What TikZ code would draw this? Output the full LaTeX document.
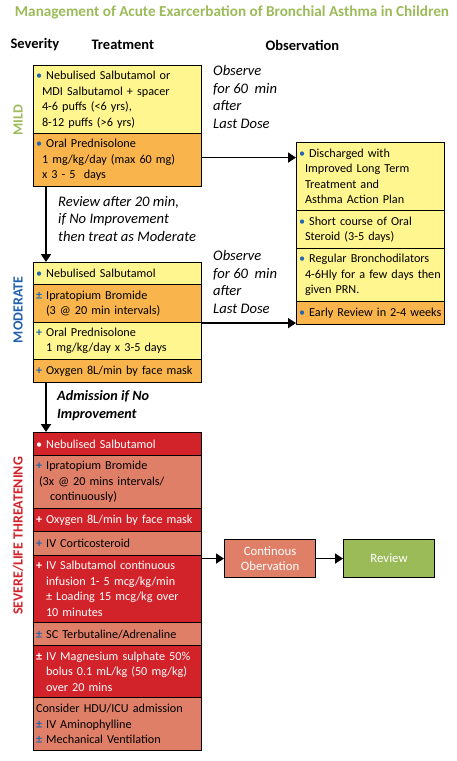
\documentclass[tikz,border=0pt]{standalone}
\usepackage{fontspec}
\setmainfont{Carlito}
\usetikzlibrary{arrows.meta}
\definecolor{cyel}{HTML}{FFF68F}
\definecolor{corg}{HTML}{F9B54C}
\definecolor{cred}{HTML}{D2232A}
\definecolor{csal}{HTML}{E07F67}
\definecolor{cgrn}{HTML}{9BBB59}
\definecolor{cblu}{HTML}{1F5FAD}
\definecolor{cbul}{HTML}{2367B0}
\newcommand{\bul}{\textcolor{cbul}{•}}
\newcommand{\pls}{\textcolor{cbul}{\textbf{+}}}
\newcommand{\pmi}{\textcolor{cbul}{\textbf{±}}}
\newcommand{\ib}{\hspace*{6pt}}
\newcommand{\ip}{\hspace*{10pt}}
\begin{document}
\begin{tikzpicture}[x=1pt,y=-1pt,
  box/.style={draw=black, line width=1.1pt, anchor=north west, align=left,
    inner xsep=2.5pt, inner ysep=0pt, font=\fontsize{12.2}{15.5}\selectfont},
  lbox/.style={box, text width=163pt},
  rbox/.style={box, text width=143pt},
  redbox/.style={lbox, fill=cred, text=white},
  salbox/.style={lbox, fill=csal},
  arr/.style={line width=1.8pt, -{Triangle[length=8pt,width=10pt]}},
  obs/.style={anchor=north west, align=left, inner sep=0pt,
    font=\fontsize{14.6}{17.7}\selectfont\itshape},
  side/.style={rotate=90, font=\fontsize{14}{14}\selectfont\bfseries},
  hdr/.style={anchor=west, font=\fontsize{14.5}{14.5}\selectfont\bfseries},
  endbox/.style={draw=black, line width=1.1pt, anchor=north west, align=center,
    text=white, minimum width=91pt, minimum height=38pt, inner sep=0pt,
    font=\fontsize{12.8}{15.5}\selectfont}]
\useasboundingbox (0,0) rectangle (457,761);

\node[text=cgrn, font=\fontsize{15.2}{15.2}\selectfont\bfseries] (title) at (232,12)
  {Management of Acute Exarcerbation of Bronchial Asthma in Children};
\node[hdr] (hsev) at (7,45) {Severity};
\node[hdr] (htrt) at (88,45) {Treatment};
\node[hdr] (hobs) at (262,45) {Observation};

% side labels
\node[side, text=cgrn] (lmild) at (18,120) {MILD};
\node[side, text=cblu] (lmod) at (18,310) {MODERATE};
\node[side, text=cred] (lsev) at (18,536) {SEVERE/LIFE THREATENING};

% mild
\node[lbox, fill=cyel, minimum height=68pt] (m1) at (33,65)
  {\bul\ Nebulised~Salbutamol~or\\\ib MDI~Salbutamol~+~spacer\\\ib 4-6~puffs~(<6~yrs),\\\ib 8-12~puffs~(>6~yrs)};
\node[lbox, fill=corg, minimum height=53pt] (m2) at (33,133)
  {\bul\ Oral~Prednisolone\\\ib 1~mg/kg/day~(max~60~mg)\\\ib x~3~-~5~~days};

% moderate
\node[lbox, fill=cyel, minimum height=22pt] (mod1) at (33,262)
  {\bul\ Nebulised~Salbutamol};
\node[lbox, fill=corg, minimum height=38pt] (mod2) at (33,284)
  {\pmi\ Ipratopium~Bromide\\\ip(3~@~20~min~intervals)};
\node[lbox, fill=cyel, minimum height=37pt] (mod3) at (33,322)
  {\pls\ Oral~Prednisolone\\\ip 1~mg/kg/day~x~3-5~days};
\node[lbox, fill=corg, minimum height=23pt] (mod4) at (33,359)
  {\pls\ Oxygen~8L/min~by~face~mask};

% severe
\node[redbox, minimum height=23pt] (s1) at (33,432) {•~Nebulised~Salbutamol};
\node[salbox, minimum height=53pt] (s2) at (33,455)
  {\pls\ Ipratopium~Bromide\\\hspace*{3pt}(3x~@~20~mins~intervals/\\\hspace*{14pt}continuously)};
\node[redbox, minimum height=23pt] (s3) at (33,508) {\textbf{+}~Oxygen~8L/min~by~face~mask};
\node[salbox, minimum height=24pt] (s4) at (33,531) {\pls\ IV~Corticosteroid};
\node[redbox, minimum height=67pt] (s5) at (33,555)
  {\textbf{+}~IV~Salbutamol~continuous\\\ip infusion~1-~5~mcg/kg/min\\\ip ±~Loading~15~mcg/kg~over\\\ip 10~minutes};
\node[salbox, minimum height=23pt] (s6) at (33,622) {\pmi\ SC~Terbutaline/Adrenaline};
\node[redbox, minimum height=52pt] (s7) at (33,645)
  {\textbf{±}~IV~Magnesium~sulphate~50\%\\\ip bolus~0.1~mL/kg~(50~mg/kg)\\\ip over~20~mins};
\node[salbox, minimum height=53pt] (s8) at (33,697)
  {Consider~HDU/ICU~admission\\\pmi\ IV~Aminophylline\\\pmi\ Mechanical~Ventilation};

% right column
\node[rbox, fill=cyel, minimum height=68pt] (r1) at (296,142)
  {\bul\ Discharged~with\\\ib Improved~Long~Term\\\ib Treatment~and\\\ib Asthma~Action~Plan};
\node[rbox, fill=cyel, minimum height=38pt] (r2) at (296,210)
  {\bul\ Short~course~of~Oral\\\ib Steroid~(3-5~days)};
\node[rbox, fill=cyel, minimum height=53pt] (r3) at (296,248)
  {\bul\ Regular~Bronchodilators\\\ib 4-6Hly~for~a~few~days~then\\\ib given~PRN.};
\node[rbox, fill=corg, minimum height=23pt] (r4) at (296,301)
  {\bul\ Early~Review~in~2-4~weeks};

% end boxes
\node[endbox, fill=csal] (co) at (224,539) {Continous\\Obervation};
\node[endbox, fill=cgrn] (rv) at (343,539) {Review};

% observation texts
\node[obs] (ob1) at (213,65) {Observe\\for 60~ min\\after\\Last Dose};
\node[obs] (ob2) at (213,250) {Observe\\for 60~ min\\after\\Last Dose};
\node[obs] (rev) at (58,196) {Review after 20 min,\\if No Improvement\\then treat as \textit{Moderate}};
\node[obs, font=\fontsize{14.2}{18.5}\selectfont\bfseries\itshape] (adm) at (57,390) {Admission if No\\Improvement};

% connectors
\draw[arr] ([yshift=2.5pt]m2.east) -- ([yshift=2.5pt]m2.east -| r1.west);
\draw[arr] (mod2.south east) -- (mod2.south east -| r4.west);
\draw[arr] ([xshift=13pt]m2.south west) -- ([xshift=13pt]mod1.north west);
\draw[arr] ([xshift=13pt]mod4.south west) -- ([xshift=13pt]s1.north west);
\draw[arr] (co.west -| s5.east) -- (co.west);
\draw[arr] (co.east) -- (rv.west);
\end{tikzpicture}
\end{document}
